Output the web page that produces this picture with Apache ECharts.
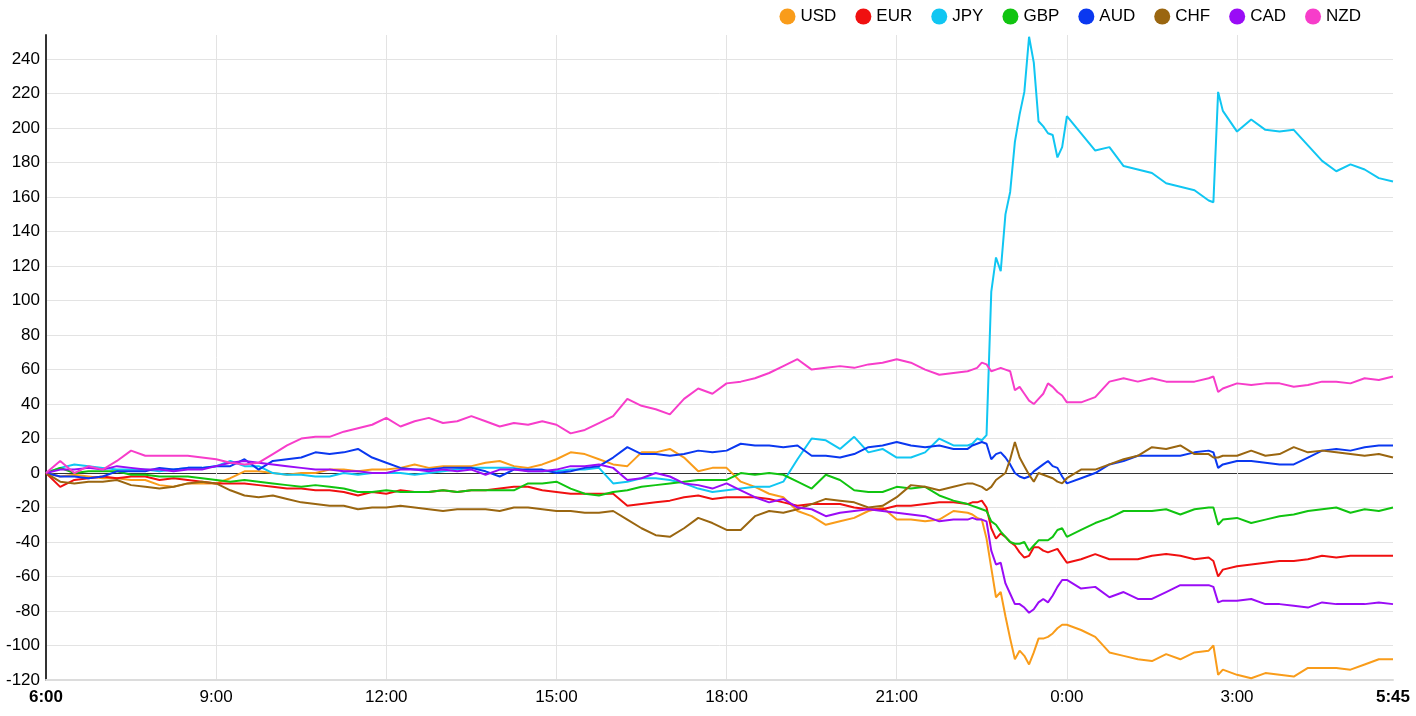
<!DOCTYPE html>
<html><head><meta charset="utf-8">
<script src="https://cdn.jsdelivr.net/npm/echarts@6/dist/echarts.min.js"></script>
<style>html,body{margin:0;padding:0;background:#fff}#c{width:1416px;height:716px}</style>
</head><body><div id="c"></div>
<script>
// minutes elapsed since 6:00
const minutes = [
  0,15,30,45,60,75,90,105,120,135,150,165,180,195,210,225,240,255,270,285,
  300,315,330,345,360,375,390,405,420,435,450,465,480,495,510,525,540,555,570,585,
  600,615,630,645,660,675,690,705,720,735,750,765,780,795,810,825,840,855,870,885,
  900,915,930,945,960,975,
  980,985,990,995,1000,1005,1010,1015,1020,1025,1030,1035,1040,1045,1050,1055,1060,1065,1070,1075,1080,
  1095,1110,1125,1140,1155,1170,1185,1200,1215,1230,
  1235,1240,
  1245,1260,1275,1290,1305,1320,1335,1350,1365,1380,1395,1410,1425
];
const USD = [
  0,-2,-1,-2,-3,-3,-4,-4,-7,-8, -6,-6,-6,-3,1,1,0,-1,0,0, 2,2,1,2,2,3,5,3,4,4,
  4,6,7,4,3,5,8,12,11,8, 5,4,12,12,14,9,1,3,3,-5, -8,-12,-14,-22,-25,-30,-28,-26,-22,-20,
  -27,-27,-28,-27,-22,-23,
  -24,-26,-27,-38,-55,-72,-69,-83,-96,-108,-103,-106,-111,-104,-96,-96,-95,-93,-90,-88,-88,
  -91,-95,-104,-106,-108,-109,-105,-108,-104,-103,
  -100,-117,
  -114,-117,-119,-116,-117,-118,-113,-113,-113,-114,-111,-108,-108
];
const EUR = [
  0,-8,-4,-3,-2,-3,-2,-2,-4,-3, -4,-5,-6,-6,-6,-7,-8,-9,-9,-10, -10,-11,-13,-11,-12,-10,-11,-11,-10,-11,
  -10,-10,-9,-8,-8,-10,-11,-12,-12,-12, -12,-19,-18,-17,-16,-14,-13,-15,-14,-14, -14,-15,-17,-19,-18,-18,-18,-20,-21,-21,
  -19,-19,-18,-17,-17,-18,
  -17,-17,-16,-20,-32,-38,-35,-37,-40,-42,-46,-49,-48,-43,-43,-45,-46,-45,-44,-48,-52,
  -50,-47,-50,-50,-50,-48,-47,-48,-50,-49,
  -51,-60,
  -56,-54,-53,-52,-51,-51,-50,-48,-49,-48,-48,-48,-48
];
const JPY = [
  0,3,5,4,3,2,2,2,1,2, 3,3,4,7,4,4,0,-1,-1,-2, -2,0,-1,0,0,0,-1,0,1,2,
  3,3,3,3,1,1,1,2,2,3, -6,-5,-3,-3,-4,-6,-9,-11,-10,-9, -8,-8,-5,8,20,19,14,21,12,14,
  9,9,12,20,16,16,
  17,20,19,22,105,125,117,150,163,192,208,221,253,238,204,201,197,196,183,189,207,
  197,187,189,178,176,174,168,166,164,158,
  157,221,
  210,198,205,199,198,199,190,181,175,179,176,171,169
];
const GBP = [
  0,3,0,1,1,1,-1,-1,-2,-2, -2,-3,-4,-5,-4,-5,-6,-7,-8,-7, -8,-9,-11,-11,-10,-11,-11,-11,-10,-11,
  -10,-10,-10,-10,-6,-6,-5,-9,-12,-13, -11,-10,-8,-7,-6,-5,-4,-4,-4,0, -1,0,-1,-5,-9,-1,-4,-10,-11,-11,
  -8,-9,-8,-13,-16,-18,
  -19,-20,-21,-22,-28,-30,-34,-37,-40,-41,-41,-40,-45,-42,-39,-39,-39,-37,-33,-32,-37,
  -33,-29,-26,-22,-22,-22,-21,-24,-21,-20,
  -20,-30,
  -27,-26,-29,-27,-25,-24,-22,-21,-20,-23,-21,-22,-20
];
const AUD = [
  0,-2,-2,-3,-2,1,1,1,3,2, 3,3,4,4,8,2,7,8,9,12, 11,12,14,9,6,3,2,2,3,3,
  3,1,-2,2,2,2,0,1,3,4, 9,15,11,11,10,11,13,12,13,17, 16,16,15,16,10,10,9,11,15,16,
  18,16,15,16,14,14,
  16,17,18,17,8,11,12,9,5,0,-2,-3,-2,1,3,5,7,4,3,-2,-6,
  -3,0,5,7,10,10,10,10,12,13,
  12,3,
  5,7,7,6,5,5,9,13,14,13,15,16,16
];
const CHF = [
  0,-5,-6,-5,-5,-4,-7,-8,-9,-8, -6,-5,-6,-10,-13,-14,-13,-15,-17,-18, -19,-19,-21,-20,-20,-19,-20,-21,-22,-21,
  -21,-21,-22,-20,-20,-21,-22,-22,-23,-23, -22,-27,-32,-36,-37,-32,-26,-29,-33,-33, -25,-22,-23,-21,-18,-15,-16,-17,-20,-19,
  -14,-7,-8,-10,-8,-6,
  -6,-7,-8,-10,-8,-4,-2,0,8,18,9,4,-1,-5,0,-1,-2,-3,-5,-6,-3,
  2,2,5,8,10,15,14,16,11,11,
  9,9,
  10,10,13,10,11,15,12,13,12,11,10,11,9
];
const CAD = [
  0,2,2,3,2,4,3,2,2,1, 2,2,4,6,7,6,5,4,3,2, 2,1,1,0,0,2,2,1,2,1,
  2,-1,2,2,1,1,2,4,4,5, 3,-4,-3,0,-2,-6,-7,-9,-6,-10, -14,-17,-15,-20,-21,-25,-23,-22,-21,-22,
  -23,-24,-25,-28,-27,-27,
  -26,-27,-27,-28,-45,-53,-52,-64,-70,-76,-76,-78,-81,-79,-75,-73,-75,-71,-66,-62,-62,
  -67,-66,-72,-69,-73,-73,-69,-65,-65,-65,
  -66,-75,
  -74,-74,-73,-76,-76,-77,-78,-75,-76,-76,-76,-75,-76
];
const NZD = [
  0,7,0,4,2,7,13,10,10,10, 10,9,8,6,5,6,11,16,20,21, 21,24,26,28,32,27,30,32,29,30,
  33,30,27,29,28,30,28,23,25,29, 33,43,39,37,34,43,49,46,52,53, 55,58,62,66,60,61,62,61,63,64,
  66,64,60,57,58,59,
  60,61,64,63,59,60,61,60,59,48,50,46,42,40,43,46,52,50,47,45,41,
  41,44,53,55,53,55,53,53,53,55,
  56,47,
  49,52,51,52,52,50,51,53,53,52,55,54,56
];

const currencies = ['USD','EUR','JPY','GBP','AUD','CHF','CAD','NZD'];
const seriesValues = [USD, EUR, JPY, GBP, AUD, CHF, CAD, NZD];
const colors = ['#f99c1a','#f01010','#10c6f2','#10c410','#0a38f0','#9a6610','#9a0cf6','#f73dca'];
const xTickMinutes = [0,180,360,540,720,900,1080,1260,1425];
const xTickLabels = ['6:00','9:00','12:00','15:00','18:00','21:00','0:00','3:00','5:45'];

const FONT = 'Arial, "Liberation Sans", sans-serif';
const chart = echarts.init(document.getElementById('c'), null, {renderer:'canvas'});

// y split line colours: index 6 is the zero line
const ySplitColors = [];
for (let v = -120; v <= 240; v += 20) ySplitColors.push(v === 0 ? '#333333' : '#e3e3e3');

chart.setOption({
  animation: false,
  backgroundColor: '#ffffff',
  textStyle: {fontFamily: FONT},
  legend: {
    data: currencies,
    icon: 'circle',
    itemWidth: 16, itemHeight: 16,
    itemGap: 19,
    right: 50, top: 3,
    textStyle: {fontSize: 17, color: '#000', fontFamily: FONT}
  },
  grid: {left: 46, right: 23, top: 35, bottom: 36, containLabel: false},
  xAxis: {
    type: 'value', min: 0, max: 1425, interval: 180,
    axisLine: {show: true, onZero: false, lineStyle: {color: '#dcdcdc', width: 2}},
    axisTick: {show: false},
    splitLine: {show: true, showMinLine: false, showMaxLine: false, lineStyle: {color: '#e3e3e3', width: 1}},
    axisLabel: {
      margin: 9, fontSize: 17, color: '#000', fontFamily: FONT,
      showMinLabel: true, showMaxLabel: true,
      formatter: function (v) {
        const i = xTickMinutes.indexOf(v);
        const t = i >= 0 ? xTickLabels[i] : '';
        return (v === 0 || v === 1425) ? '{b|' + t + '}' : t;
      },
      rich: {b: {fontWeight: 'bold', fontSize: 17, color: '#000', fontFamily: FONT}}
    }
  },
  yAxis: {
    type: 'value', min: -120, max: 254, interval: 20,
    axisLine: {show: true, onZero: false, lineStyle: {color: '#333', width: 2}},
    axisTick: {show: false},
    splitLine: {show: true, showMaxLine: false, lineStyle: {color: ySplitColors, width: 1}},
    axisLabel: {margin: 6, fontSize: 17, color: '#000', fontFamily: FONT, showMaxLabel: false}
  },
  series: currencies.map((name, k) => ({
    name: name,
    type: 'line',
    data: minutes.map((m, i) => [m, seriesValues[k][i]]),
    showSymbol: false,
    symbol: 'none',
    color: colors[k],
    lineStyle: {width: 2, color: colors[k]},
    emphasis: {disabled: true}
  }))
});
</script></body></html>
